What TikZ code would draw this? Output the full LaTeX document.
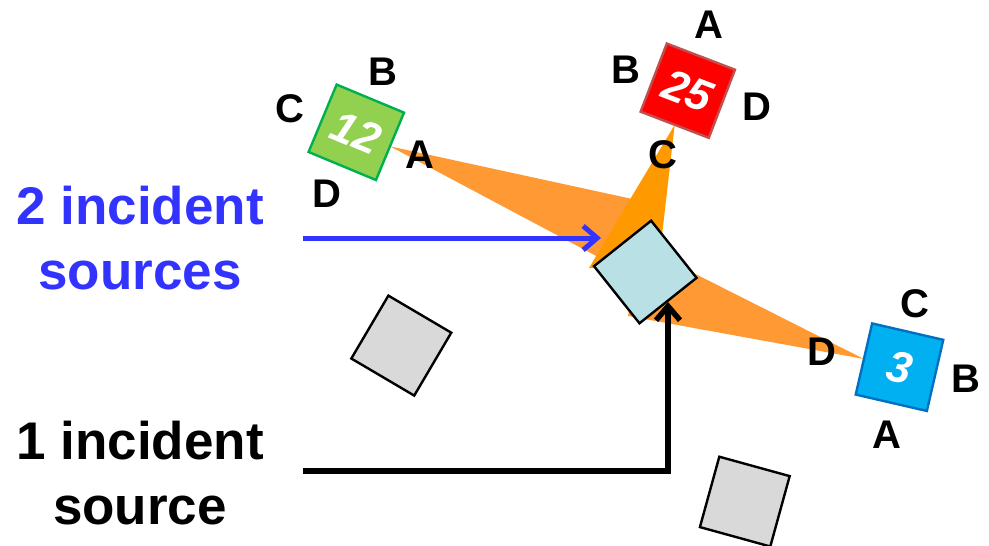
\documentclass[tikz,border=0pt]{standalone}
\usepackage{fontspec}
\setmainfont{Liberation Sans}
\usetikzlibrary{arrows.meta,backgrounds}
\definecolor{srcblue}{HTML}{3333FF}
\definecolor{lgreen}{HTML}{92D050}
\definecolor{dgreen}{HTML}{00B050}
\definecolor{sred}{HTML}{FF0000}
\definecolor{dred}{HTML}{C0504D}
\definecolor{sblue}{HTML}{00B0F0}
\definecolor{bblue}{HTML}{0070C0}
\definecolor{cfill}{HTML}{B9E0E4}
\definecolor{gfill}{HTML}{D9D9D9}
\definecolor{lorange}{HTML}{FF9933}
\definecolor{dorange}{HTML}{FF9900}
\tikzset{
  sq/.style={draw, line width=2.4pt, minimum size=73pt, inner sep=0pt, outer sep=0pt,
    font=\fontsize{44}{44}\selectfont\bfseries\itshape, text=white},
  lbl/.style={font=\fontsize{40}{40}\selectfont\bfseries, inner sep=0pt},
  bigtxt/.style={font=\fontsize{53}{65}\selectfont\bfseries, align=center, inner sep=0pt},
  barb/.style={-{Straight Barb[length=14pt,width=24pt]}}
}
\begin{document}
\begin{tikzpicture}[x=1pt,y=-1pt]
\useasboundingbox (0,0) rectangle (989,546);
% source squares
\node[sq, fill=lgreen, draw=dgreen, rotate=-22.6] (g) at (356.3,132.3) {12};
\node[sq, fill=sred, draw=dred, rotate=-21] (r) at (687.8,90.7) {25};
\node[sq, fill=sblue, draw=bblue, rotate=-13] (b) at (899.5,367.2) {3};
% target and other squares
\node[sq, fill=cfill, draw=black, rotate=38.5] (c) at (645.3,272) {};
\node[sq, fill=gfill, draw=black, rotate=-30.5] (q1) at (401.3,345.6) {};
\node[sq, fill=gfill, draw=black, rotate=-15.4] (q2) at (744.8,501.6) {};
% beams
\begin{scope}[on background layer]
\fill[lorange] (g.east) -- (660,205) -- (640,240) -- (600,258) -- cycle;
\fill[dorange] (r.south) -- (589,268) -- (658,270) -- cycle;
\fill[lorange] (b.west) -- (640,246) -- (628,316) -- cycle;
\end{scope}
% labels
\node[lbl] (gB) at (383.3,71.7) {B};
\node[lbl] (gC) at (290,108.3) {C};
\node[lbl] (gA) at (420,155) {A};
\node[lbl] (gD) at (327.3,193.3) {D};
\node[lbl] (rA) at (709.3,25) {A};
\node[lbl] (rB) at (626,70) {B};
\node[lbl] (rD) at (756.7,106.7) {D};
\node[lbl] (rC) at (663.3,155) {C};
\node[lbl] (bC) at (915,303.3) {C};
\node[lbl] (bB) at (966,378.3) {B};
\node[lbl] (bA) at (887.3,435) {A};
\node[lbl] (bD) at (822.3,351.7) {D};
% texts
\node[bigtxt, text=srcblue] (t2) at (140,238.5) {2 incident\\sources};
\node[bigtxt] (t1) at (140,473.5) {1 incident\\source};
% arrows
\coordinate (bs) at (303,238);
\coordinate (be) at (601,238);
\draw[srcblue, line width=5pt, barb] (bs) -- (be);
\coordinate (ks) at (303,471);
\coordinate (ke) at (668,302);
\draw[black, line width=5.5pt, barb] (ks) -| (ke);
\end{tikzpicture}
\end{document}
